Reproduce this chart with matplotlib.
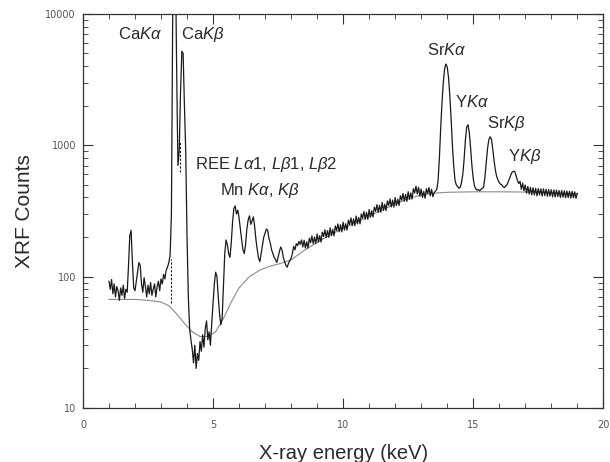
import numpy as np
import matplotlib
matplotlib.use('Agg')
import matplotlib.pyplot as plt
from matplotlib.ticker import LogLocator, MultipleLocator, NullFormatter

plt.rcParams['font.family'] = ['Liberation Sans', 'DejaVu Sans']
plt.rcParams['mathtext.fontset'] = 'custom'
plt.rcParams['mathtext.rm'] = 'Liberation Sans'
plt.rcParams['mathtext.it'] = 'Liberation Sans:italic'

# channel width of the spectrum (keV)
STEP = 0.05

# spectrum in pieces (start energy, counts per channel)
low_start = 1.00
low_counts = [92, 80, 95, 74, 88, 70, 84, 78, 66, 82, 72, 86, 68, 80, 76, 120,
              205, 225, 130, 82, 78, 92, 108, 128, 122, 88, 76, 98, 84, 70, 86, 74,
              90, 72, 80, 88, 70, 84, 92, 78, 96, 88, 104, 96, 112, 118, 128, 145]

ca_start = 3.40
ca_counts = [300, 12000, 40000, 30000, 4000, 700, 900, 2500, 5200, 5000, 2000, 900,
             200, 70, 40, 33]

mn_start = 4.20
mn_counts = [28, 22, 30, 20, 26, 23, 32, 27, 36, 29, 40, 46, 33, 38, 30, 44,
             62, 88, 108, 100, 70, 52, 43, 48, 85, 150, 190, 175, 150, 140, 180, 260,
             330, 345, 300, 320, 280, 230, 190, 160, 150, 175, 230, 270, 290, 250, 265, 285,
             240, 190, 160, 138, 130, 150, 175, 200, 215, 230, 225, 195, 180, 160, 150, 140,
             135, 128, 140, 155, 168, 160, 140, 130, 122, 118, 126, 132, 138, 150, 170, 160,
             178, 172, 185, 176, 190, 168]

mid_start = 8.50
mid_counts = [189, 165, 184, 165, 196, 181, 204, 178, 200, 178, 211, 183, 205, 183, 218, 202,
              227, 198, 224, 199, 235, 205, 229, 204, 243, 224, 252, 219, 248, 219, 259, 226,
              253, 226, 269, 249, 280, 244, 275, 244, 289, 252, 282, 252, 300, 278, 313, 273,
              308, 273, 324, 283, 317, 284, 338, 314, 353, 308, 349, 309, 367, 319, 356, 318,
              377, 348, 390, 339, 382, 338, 400, 348, 389, 348, 413, 382, 429, 374, 422, 374,
              443, 386, 433, 389, 467, 433, 488, 425, 478, 409, 464, 400, 445, 395, 467, 428,
              477, 412, 462, 405]

sr_start = 13.50
sr_counts = [436, 448, 460, 540, 800, 1350, 2100, 3000, 3800, 4150, 3950, 3300, 2400, 1600, 1000, 700,
             540, 500, 484, 470, 478, 520, 600, 780, 1100, 1380, 1430, 1250, 950, 700, 560, 490,
             465, 455, 460, 450, 462, 470,
             480, 570, 730, 940, 1100, 1160, 1110, 940, 770, 650, 580, 545, 520, 505, 500, 482,
             476, 490, 500, 528, 560, 598, 625, 634, 628, 585, 540, 512,
             530, 462, 515, 450, 498, 432, 485, 425, 478, 420, 474, 418, 470, 412, 468, 418,
             466, 410, 465, 414, 462, 408, 460, 410, 458, 405, 457, 404, 455, 406, 452, 400,
             452, 402, 450, 398, 448, 400, 446, 396, 445, 398, 442, 395, 430]

# fitted background (thin grey curve)
bg_energy = [1.0, 2.0, 2.5, 3.0, 3.3, 3.6, 3.9, 4.2, 4.5, 4.8, 5.1, 5.4, 5.7, 6.0, 6.4, 6.8,
             7.2, 7.6, 8.0, 8.5, 9.0, 9.5, 10.0, 10.5, 11.0, 11.5, 12.0, 12.5, 13.0, 13.5,
             14.0, 15.0, 16.0, 17.0, 18.0, 19.0]
bg_counts = [67, 67, 66, 64, 60, 52, 44, 38, 35, 35, 38, 48, 64, 82, 100, 112,
             120, 126, 134, 158, 182, 208, 232, 258, 288, 322, 356, 392, 418, 432,
             438, 442, 442, 440, 436, 428]

# dashed markers: (energy, lower count, upper count)
dash_marks = [(3.40, 63, 135), (3.72, 620, 1050)]

# peak labels: (text, energy, counts, alignment)
labels = [(r'Ca$K\alpha$', 2.19, 7000, 'center'),
          (r'Ca$K\beta$', 4.59, 7000, 'center'),
          (r'REE $L\alpha$1, $L\beta$1, $L\beta$2', 4.30, 710, 'left'),
          (r'Mn $K\alpha$, $K\beta$', 5.26, 455, 'left'),
          (r'Sr$K\alpha$', 13.99, 5350, 'center'),
          (r'Y$K\alpha$', 14.97, 2140, 'center'),
          (r'Sr$K\beta$', 16.28, 1460, 'center'),
          (r'Y$K\beta$', 16.97, 815, 'center')]


def channels(start, counts):
    return np.round(start + STEP * np.arange(len(counts)), 2)


segments = [(low_start, low_counts), (ca_start, ca_counts), (mn_start, mn_counts),
            (mid_start, mid_counts), (sr_start, sr_counts)]
energy = np.concatenate([channels(s, c) for s, c in segments])
counts = np.concatenate([np.asarray(c, dtype=float) for s, c in segments])

fig = plt.figure(figsize=(6.1, 4.62), dpi=100)
ax = fig.add_axes([0.136, 0.117, 0.853, 0.853])

ax.plot(bg_energy, bg_counts, color='#8a8a8a', lw=0.8)
ax.plot(energy, counts, color='#1a1a1a', lw=0.9)
for e, lo, hi in dash_marks:
    ax.plot([e, e], [lo, hi], color='#1a1a1a', lw=0.8, ls=(0, (2, 1.5)))

for text, e, c, ha in labels:
    ax.text(e, c, text, ha=ha, va='center', fontsize=12, color='#2a2a2a')

ax.set_yscale('log')
ax.set_xlim(0, 20)
ax.set_ylim(10, 10000)

ax.xaxis.set_major_locator(MultipleLocator(5))
ax.xaxis.set_minor_locator(MultipleLocator(1))
ax.yaxis.set_minor_locator(LogLocator(base=10, subs=np.arange(2, 10), numticks=20))
ax.yaxis.set_minor_formatter(NullFormatter())
ax.set_yticks([10, 100, 1000, 10000])
ax.set_yticklabels(['10', '100', '1000', '10000'])

ax.tick_params(which='both', direction='in', top=True, right=True, color='#333333',
               labelsize=7, labelcolor='#555555')
ax.tick_params(which='major', length=7, width=0.8)
ax.tick_params(which='minor', length=3.5, width=0.6)
ax.tick_params(axis='x', which='both', pad=9)
ax.tick_params(axis='y', which='both', pad=5)
for lbl in ax.get_xticklabels() + ax.get_yticklabels():
    lbl.set_family('DejaVu Sans')

for sp in ax.spines.values():
    sp.set_linewidth(0.9)
    sp.set_color('#333333')

ax.set_xlabel('X-ray energy (keV)', fontsize=14.5, color='#2a2a2a', labelpad=10)
ax.set_ylabel('XRF Counts', fontsize=15, color='#2a2a2a', labelpad=8)

fig.savefig('out.png', dpi=100)
